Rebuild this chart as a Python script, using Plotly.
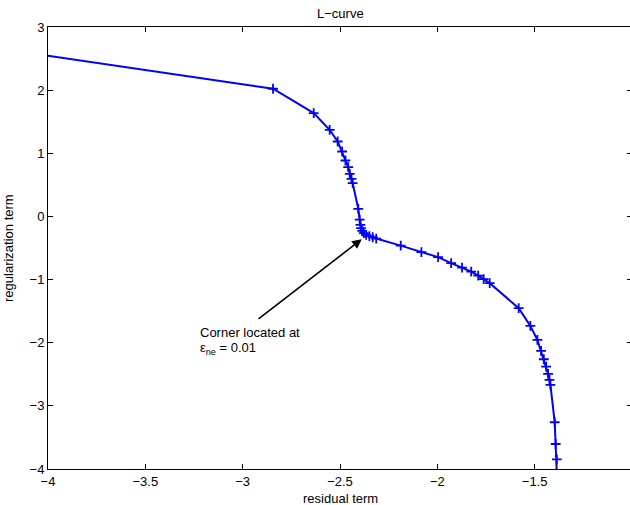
import plotly.graph_objects as go

# L-curve data (residual term, regularization term)
residual = [-4.5, -2.844, -2.635, -2.553, -2.512, -2.489, -2.472, -2.458, -2.450, -2.441,
            -2.435, -2.406, -2.399, -2.395, -2.392, -2.386, -2.378, -2.366, -2.349, -2.332,
            -2.314, -2.188, -2.082, -1.996, -1.929, -1.873, -1.826, -1.790, -1.762, -1.731,
            -1.582, -1.522, -1.486, -1.467, -1.453, -1.441, -1.431, -1.424, -1.419, -1.397,
            -1.392, -1.386, -1.382]
regularization = [2.77, 2.022, 1.637, 1.372, 1.187, 1.028, 0.886, 0.781, 0.675, 0.596,
                  0.528, 0.120, -0.050, -0.133, -0.185, -0.228, -0.265, -0.291, -0.312, -0.330,
                  -0.350, -0.463, -0.566, -0.645, -0.740, -0.810, -0.873, -0.937, -0.994, -1.057,
                  -1.453, -1.734, -1.956, -2.130, -2.262, -2.379, -2.495, -2.590, -2.669, -3.260,
                  -3.604, -3.846, -4.4]

x_ticks = [-4, -3.5, -3, -2.5, -2, -1.5, -1]
y_ticks = [-4, -3, -2, -1, 0, 1, 2, 3]

corner = (-2.388, -0.360)
arrow_tail = (-2.926, -1.639)

FONT = "Liberation Sans, Arial, Helvetica, sans-serif"

fig = go.Figure()
fig.add_trace(go.Scatter(
    x=residual, y=regularization, mode="lines+markers",
    line=dict(color="#0000ff", width=2),
    marker=dict(symbol="cross-thin", size=7, color="#0000ff",
                line=dict(color="#0000ff", width=1.8)),
    cliponaxis=True, showlegend=False,
))

axis_common = dict(
    showgrid=False, zeroline=False, showline=True, linecolor="black", linewidth=1,
    mirror="ticks", ticks="inside", ticklen=5, tickwidth=1, tickcolor="black",
    tickfont=dict(family=FONT, size=13, color="black"),
)

fig.update_xaxes(range=[-4, -1], tickvals=x_ticks,
                 ticktext=[str(v).replace("-", "\u2212") for v in x_ticks], **axis_common)
fig.update_yaxes(range=[-4, 3], tickvals=y_ticks,
                 ticktext=[str(v).replace("-", "\u2212") for v in y_ticks], **axis_common)

annotations = [
    dict(text="L\u2212curve", xref="paper", yref="paper", x=0.5, y=1, xanchor="center",
         yanchor="middle", yshift=14, showarrow=False, font=dict(family=FONT, size=13, color="black")),
    dict(text="residual term", xref="paper", yref="paper", x=0.5, y=0, xanchor="center",
         yanchor="middle", yshift=-29, showarrow=False, font=dict(family=FONT, size=13, color="black")),
    dict(text="regularization term", xref="paper", yref="paper", x=0, y=0.5, xanchor="center",
         yanchor="middle", xshift=-40, textangle=-90, showarrow=False,
         font=dict(family=FONT, size=13, color="black")),
    dict(text="", x=corner[0], y=corner[1], ax=arrow_tail[0], ay=arrow_tail[1],
         xref="x", yref="y", axref="x", ayref="y", showarrow=True, arrowhead=2,
         arrowsize=1.2, arrowwidth=1.6, arrowcolor="black"),
    dict(text="Corner located at", x=-3.231, y=-1.835, xref="x", yref="y", xanchor="left",
         yanchor="middle", showarrow=False, font=dict(family=FONT, size=13, color="black")),
    dict(text="\u03b5<sub>ne</sub> = 0.01", x=-3.231, y=-2.085, xref="x", yref="y", xanchor="left",
         yanchor="middle", showarrow=False, font=dict(family=FONT, size=13, color="black")),
]

fig.update_layout(
    width=632, height=505,
    margin=dict(l=48, r=0, t=27, b=36),
    paper_bgcolor="white", plot_bgcolor="white",
    annotations=annotations,
)

fig.write_html("out.html", config={"displayModeBar": False},
               post_script="document.body.style.margin='0';document.body.style.overflow='hidden';")
